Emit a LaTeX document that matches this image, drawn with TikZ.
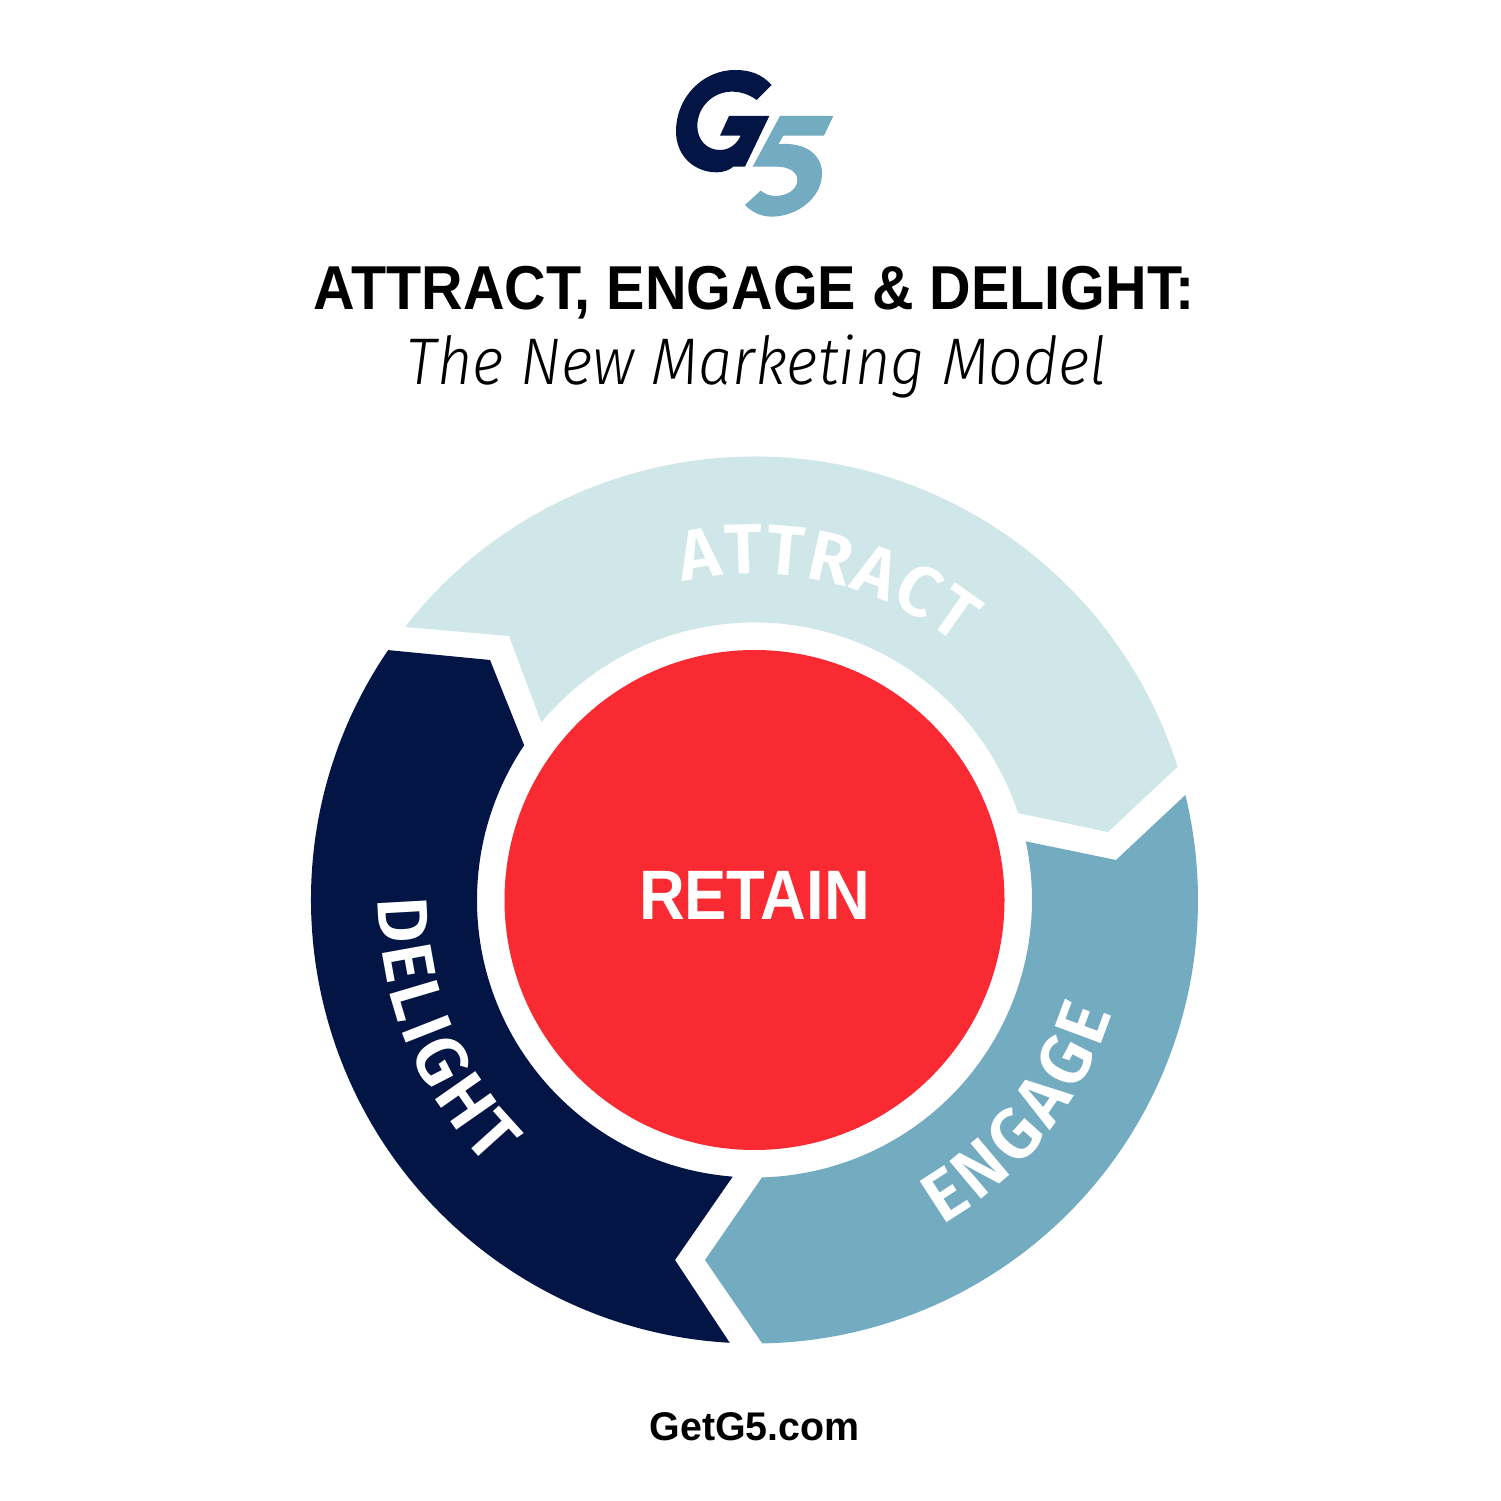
\documentclass[tikz,border=0pt]{standalone}
\usepackage{fontspec}
\usepackage{graphicx}
\usetikzlibrary{decorations.text}
\setmainfont{Liberation Sans}
\newfontfamily\italfont[Ligatures=NoCommon]{Fira Sans Light}
\newfontfamily\arcfont{Fira Sans SemiBold}
\definecolor{attractc}{HTML}{D0E7EA}
\definecolor{engagec}{HTML}{73ABC1}
\definecolor{delightc}{HTML}{031544}
\definecolor{retainc}{HTML}{F92A32}
\tikzset{
  headline/.style={inner sep=0pt,text=black},
  arclabel/.style={decorate,decoration={text along path,text color=white,text align={fit to path},
     text={|\arcfont\fontsize{71}{71}\selectfont|#1}}}
}
\begin{document}
\begin{tikzpicture}[x=1pt,y=1pt]
\useasboundingbox (0,0) rectangle (1501,1500);
\begin{scope}[shift={(650,1450)},x=0.3333pt,y=-0.3333pt]
 \fill[delightc] (365,105) .. controls (335,72) and (300,60) .. (255,60)
   .. controls (160,60) and (78,140) .. (78,245)
   .. controls (78,315) and (130,367) .. (200,367)
   .. controls (225,367) and (240,358) .. (250,350) -- (285,350) -- (358,198) -- (237,198) -- (210,257) -- (272,257)
   .. controls (262,280) and (240,300) .. (210,300)
   .. controls (170,300) and (142,270) .. (142,228)
   .. controls (142,170) and (190,125) .. (245,125)
   .. controls (275,125) and (300,135) .. (320,150) -- cycle;
 \fill[engagec] (390,198) -- (550,198) -- (522,257) -- (400,257) -- (385,283)
   .. controls (460,275) and (516,310) .. (516,370)
   .. controls (516,445) and (440,500) .. (365,500)
   .. controls (335,500) and (305,487) .. (285,465) -- (332,422)
   .. controls (345,432) and (360,438) .. (375,438)
   .. controls (410,438) and (442,420) .. (442,390)
   .. controls (442,362) and (410,350) .. (380,350) -- (308,350) -- cycle;
\end{scope}
\node[headline,font=\bfseries\fontsize{62}{62}\selectfont] (title) at (754.5,1207) {\resizebox{881pt}{\height}{ATTRACT, ENGAGE \& DELIGHT:}};
\node[headline,font=\italfont\itshape\fontsize{66}{66}\selectfont] (subtitle) at (757,1134) {\resizebox{700pt}{\height}{The New Marketing Model}};
\begin{scope}[shift={(754.5,600)}]
 \fill[attractc] (142:443.5) arc[start angle=142,end angle=17.47,radius=443.5] -- (353.5,68) -- (18.27:277.5) arc[start angle=18.27,end angle=140.2,radius=277.5] -- (-245.5,264) -- cycle;
 \fill[engagec] (13.7:443.5) arc[start angle=13.7,end angle=-89,radius=443.5] -- (-49.5,-360) -- (-88.45:277.5) arc[start angle=-88.45,end angle=12.2,radius=277.5] -- (361.5,40) -- cycle;
 \fill[delightc] (145.7:443.5) arc[start angle=145.7,end angle=266.8,radius=443.5] -- (-79.5,-360) -- (265.5:277.5) arc[start angle=265.5,end angle=146.1,radius=277.5] -- (-264.5,240) -- cycle;
 \node[circle,fill=retainc,minimum size=500pt,inner sep=0pt] (retaindisc) at (0,0) {};
 \node[text=white,inner sep=0pt,font=\bfseries\fontsize{70}{70}\selectfont] (retain) at (0,5) {\resizebox{231pt}{\height}{RETAIN}};
 \path[arclabel=ATTRACT] (102.8:326) arc[start angle=102.8,end angle=51.5,radius=326];
 \path[arclabel=DELIGHT] (179.7:376) arc[start angle=179.7,end angle=225,radius=376];
 \path[arclabel=ENGAGE] (-60:375) arc[start angle=-60,end angle=-17.5,radius=375];
\end{scope}
\node[headline,font=\bfseries\fontsize{40}{40}\selectfont] (url) at (754.5,73) {\resizebox{210pt}{\height}{GetG5.com}};
\end{tikzpicture}
\end{document}
